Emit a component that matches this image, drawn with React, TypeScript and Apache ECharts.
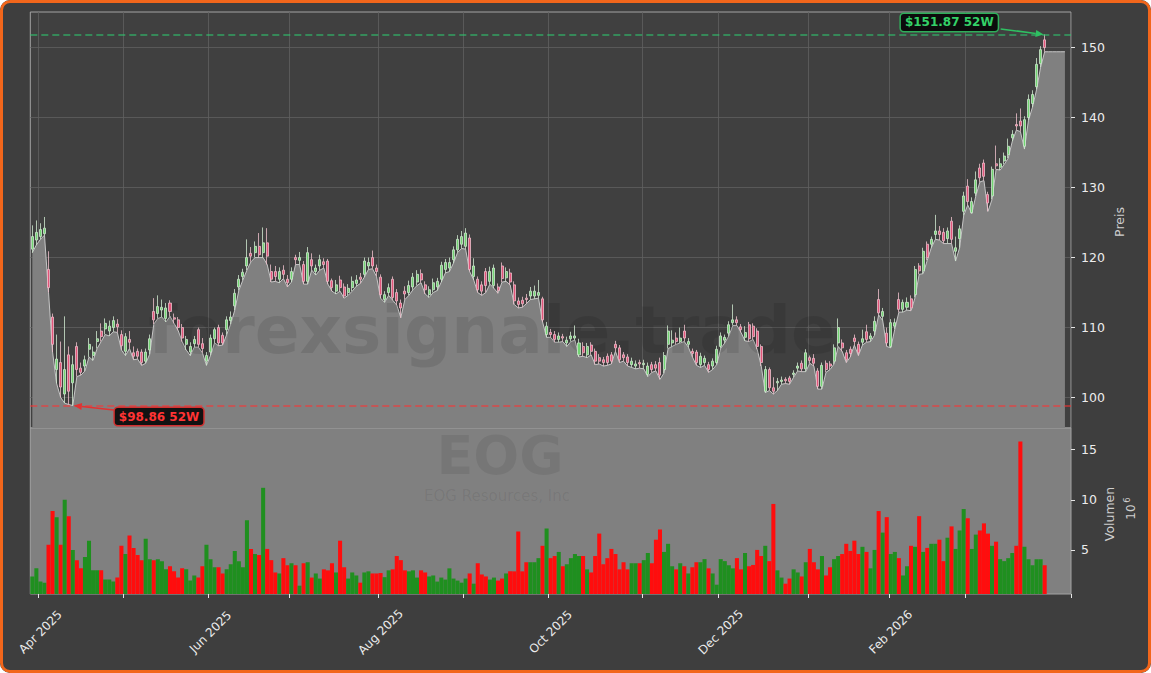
import React, { useEffect, useRef } from "react";
import * as echarts from "echarts";

// ---- data (index 0 = first trading day shown) ----
const opens = [
  121.2, 122.5, 123.0, 123.4, 118.3, 111.5, 104.0, 105.0, 100.5, 106.1,
  102.1, 107.3, 104.2, 104.5, 106.9, 106.0, 108.0, 109.5, 109.8, 109.5,
  110.0, 110.5, 109.0, 106.6, 108.3, 106.4, 106.6, 106.5, 105.2, 106.8,
  112.3, 112.0, 112.5, 111.3, 113.5, 111.4, 111.1, 110.0, 107.6, 106.5,
  107.7, 109.7, 107.7, 105.2, 106.5, 108.4, 110.0, 108.9, 109.7, 111.0,
  113.1, 115.8, 117.3, 118.8, 120.6, 120.7, 121.6, 120.7, 122.1, 118.0,
  118.0, 116.9, 118.2, 116.9, 116.9, 120.0, 119.6, 119.0, 116.6, 119.7,
  118.0, 118.8, 119.4, 119.5, 116.7, 115.2, 116.8, 115.8, 115.0, 115.7,
  116.3, 117.2, 117.6, 118.8, 120.0, 118.5, 117.2, 114.0, 115.0, 116.9,
  115.0, 113.5, 115.2, 115.0, 115.8, 116.5, 117.7, 116.1, 114.7, 115.4,
  115.8, 116.9, 118.3, 118.5, 119.7, 121.1, 121.9, 121.6, 122.8, 117.3,
  116.9, 116.1, 118.0, 116.6, 116.0, 115.8, 118.8, 117.1, 117.8, 116.1,
  113.8, 113.9, 114.2, 114.5, 114.5, 114.6, 114.1, 109.0, 109.3, 109.0,
  108.3, 108.7, 107.8, 108.4, 108.5, 106.1, 107.3, 106.1, 107.5, 106.6,
  105.7, 105.4, 105.9, 106.1, 107.6, 107.1, 106.1, 105.8, 104.7, 104.5,
  105.0, 104.7, 103.3, 104.7, 104.7, 105.0, 104.0, 107.6, 107.8, 108.5,
  108.0, 109.5, 107.6, 106.6, 106.5, 104.7, 105.0, 104.7, 104.5, 105.0,
  107.3, 108.2, 109.2, 110.7, 111.1, 110.1, 108.6, 110.4, 110.2, 109.5,
  107.3, 100.9, 104.0, 101.4, 102.1, 102.3, 102.6, 102.8, 103.3, 104.2,
  104.9, 104.1, 105.7, 105.6, 103.8, 101.6, 104.9, 104.8, 105.2, 107.8,
  107.8, 106.4, 106.9, 108.5, 107.6, 107.9, 109.4, 108.4, 109.5, 114.0,
  111.6, 109.2, 107.3, 110.2, 114.0, 112.6, 112.9, 114.1, 114.7, 118.8,
  118.1, 121.9, 121.9, 123.3, 123.8, 123.6, 122.7, 125.2, 120.9, 122.7,
  126.6, 130.2, 126.4, 129.2, 132.8, 133.5, 129.0, 128.8, 133.4, 132.9,
  133.8, 134.7, 137.1, 139.0, 139.5, 135.9, 140.0, 142.0, 144.4, 147.7,
  151.1,
];
const closes = [
  123.0, 123.6, 124.0, 124.2, 115.7, 107.6, 105.5, 101.5, 104.0, 100.9,
  104.7, 104.0, 103.6, 105.4, 107.6, 106.5, 108.4, 108.7, 110.6, 110.2,
  111.0, 110.1, 107.4, 108.7, 107.9, 105.9, 105.9, 105.0, 106.5, 108.4,
  111.1, 113.0, 112.9, 112.8, 112.3, 111.2, 110.0, 108.5, 108.3, 107.3,
  108.3, 107.6, 107.0, 106.0, 108.5, 109.7, 107.8, 107.8, 111.1, 111.5,
  114.9, 116.9, 117.9, 120.0, 120.2, 121.6, 120.4, 122.1, 120.2, 116.9,
  117.3, 118.0, 117.6, 116.4, 118.0, 119.7, 120.0, 116.6, 120.7, 118.8,
  118.5, 119.7, 119.0, 116.6, 115.7, 116.1, 115.7, 114.5, 115.6, 116.6,
  116.8, 116.9, 119.5, 119.3, 118.8, 118.0, 114.7, 114.7, 115.7, 114.3,
  113.8, 112.8, 114.8, 116.0, 117.2, 117.6, 116.8, 115.4, 115.4, 116.4,
  116.6, 118.9, 119.3, 119.3, 121.1, 122.6, 123.0, 123.5, 118.3, 118.8,
  115.4, 115.2, 116.0, 118.0, 118.5, 115.3, 117.0, 118.0, 116.5, 113.8,
  113.3, 113.4, 114.0, 115.2, 115.2, 115.0, 111.1, 110.2, 109.0, 108.3,
  108.8, 108.5, 108.2, 108.8, 108.8, 107.8, 106.4, 107.3, 106.6, 105.2,
  105.2, 105.0, 105.0, 105.2, 107.1, 105.4, 105.7, 105.0, 105.2, 104.8,
  104.8, 104.9, 104.5, 104.0, 104.2, 103.2, 106.0, 109.5, 108.2, 108.0,
  108.5, 108.5, 108.0, 106.3, 105.0, 105.9, 105.6, 104.0, 105.2, 106.9,
  108.8, 108.6, 110.4, 111.1, 110.7, 109.7, 109.3, 108.4, 108.7, 107.3,
  105.0, 104.0, 101.4, 100.9, 102.3, 102.5, 102.4, 102.3, 103.5, 104.5,
  104.1, 106.4, 105.3, 104.9, 101.6, 104.6, 104.0, 104.5, 107.1, 110.0,
  107.1, 105.4, 106.3, 108.0, 106.4, 108.4, 108.3, 108.8, 110.9, 112.1,
  112.3, 107.8, 110.7, 110.7, 112.6, 113.6, 113.6, 112.8, 118.3, 118.1,
  120.9, 120.0, 122.6, 123.8, 123.3, 122.4, 123.8, 122.6, 121.4, 124.1,
  128.8, 128.0, 128.0, 131.1, 131.4, 131.6, 127.8, 132.6, 133.1, 133.4,
  134.5, 135.9, 137.6, 138.8, 138.8, 139.7, 142.6, 143.3, 147.6, 149.7,
  150.0,
];
const lows = [
  120.7, 121.8, 122.6, 123.2, 115.0, 106.5, 102.0, 100.0, 99.2, 99.0,
  98.86, 103.0, 103.2, 103.8, 105.8, 105.3, 107.0, 108.0, 109.0, 108.8,
  109.4, 109.3, 106.8, 106.0, 107.0, 105.4, 105.5, 104.6, 104.9, 106.2,
  110.5, 111.3, 111.5, 110.8, 111.6, 110.6, 109.6, 108.0, 106.8, 106.0,
  107.2, 107.2, 106.4, 104.6, 106.0, 107.8, 107.4, 107.5, 109.0, 110.5,
  112.5, 115.3, 116.8, 118.2, 119.4, 120.0, 120.0, 120.0, 119.0, 116.5,
  116.6, 116.4, 117.0, 115.8, 116.5, 119.0, 119.0, 116.2, 116.2, 118.2,
  117.5, 118.2, 118.5, 116.2, 115.2, 114.8, 115.2, 114.2, 114.6, 115.2,
  115.9, 116.3, 117.2, 118.3, 118.4, 117.3, 114.2, 113.6, 114.6, 113.9,
  113.2, 111.4, 114.0, 114.6, 115.4, 116.0, 116.4, 114.8, 114.3, 115.0,
  115.3, 116.5, 117.8, 118.0, 119.2, 120.7, 121.3, 121.2, 118.0, 116.8,
  115.0, 114.6, 115.0, 116.2, 115.6, 114.9, 116.5, 116.6, 116.1, 113.3,
  112.8, 112.9, 113.4, 114.0, 114.1, 114.2, 110.8, 108.6, 108.6, 107.9,
  107.9, 108.0, 107.3, 108.0, 108.2, 105.8, 105.9, 105.7, 106.1, 104.7,
  104.8, 104.5, 104.6, 104.8, 106.6, 105.0, 105.2, 104.5, 104.3, 104.1,
  104.2, 104.1, 103.0, 103.6, 103.8, 102.6, 103.5, 107.0, 107.3, 107.6,
  107.8, 108.0, 107.2, 105.8, 104.6, 104.3, 104.6, 103.6, 104.0, 104.7,
  107.0, 107.8, 108.8, 110.3, 110.3, 109.3, 108.1, 108.0, 108.3, 106.9,
  104.5, 100.7, 101.0, 100.5, 101.0, 101.9, 102.0, 101.9, 102.9, 103.8,
  103.7, 103.7, 104.9, 104.5, 101.2, 101.2, 103.6, 104.0, 104.8, 107.3,
  106.6, 105.0, 105.8, 107.5, 106.0, 107.5, 107.9, 108.0, 108.9, 111.8,
  111.0, 107.3, 107.1, 109.8, 112.2, 112.2, 112.5, 112.4, 114.3, 117.6,
  117.7, 119.6, 121.4, 122.6, 122.5, 122.0, 122.0, 122.0, 119.5, 121.4,
  126.0, 127.5, 126.3, 128.8, 130.8, 131.0, 126.6, 128.3, 132.6, 132.5,
  133.3, 134.2, 136.6, 138.2, 138.0, 135.5, 139.6, 141.5, 144.0, 147.2,
  149.4,
];
const highs = [
  124.6, 125.3, 124.9, 125.8, 120.9, 112.0, 109.0, 108.0, 111.6, 107.3,
  106.0, 107.9, 105.0, 106.0, 108.5, 107.3, 109.5, 110.6, 111.3, 111.0,
  111.6, 111.2, 109.6, 109.2, 109.5, 107.3, 107.0, 106.9, 107.0, 109.0,
  114.2, 114.6, 114.0, 113.5, 113.9, 112.0, 111.5, 110.5, 108.8, 107.9,
  108.8, 110.0, 108.5, 106.5, 109.0, 110.0, 110.4, 109.3, 111.6, 112.3,
  115.5, 117.5, 118.4, 122.6, 121.5, 122.3, 123.5, 124.3, 124.2, 119.0,
  118.8, 118.6, 118.9, 117.5, 118.6, 120.4, 120.8, 119.5, 121.5, 120.6,
  119.0, 120.4, 119.9, 119.8, 117.0, 116.8, 117.4, 116.3, 116.2, 117.3,
  117.5, 117.8, 120.0, 120.0, 121.0, 119.0, 117.6, 115.2, 116.3, 117.3,
  115.5, 114.0, 115.9, 116.7, 117.8, 118.2, 118.3, 116.6, 115.9, 117.0,
  117.1, 119.4, 119.8, 120.0, 121.6, 123.2, 123.8, 124.2, 123.3, 119.9,
  117.3, 116.6, 118.5, 118.7, 119.0, 116.3, 119.3, 118.6, 118.4, 116.6,
  114.3, 114.4, 114.8, 115.8, 116.0, 116.8, 114.4, 110.8, 109.8, 109.5,
  109.3, 109.1, 108.7, 109.4, 110.3, 108.4, 107.9, 107.8, 107.9, 107.0,
  106.2, 105.8, 106.3, 106.5, 108.1, 107.5, 106.5, 106.2, 105.7, 105.3,
  105.4, 105.4, 105.0, 105.1, 105.2, 105.7, 106.5, 110.3, 109.6, 109.3,
  110.0, 110.4, 108.5, 107.0, 106.8, 106.4, 106.0, 105.1, 105.6, 107.4,
  109.3, 109.0, 110.9, 113.3, 111.6, 110.5, 110.2, 110.8, 110.6, 109.9,
  107.6, 104.5, 104.3, 102.9, 102.8, 103.0, 102.9, 103.1, 103.9, 105.0,
  105.3, 106.9, 106.0, 106.2, 104.2, 105.0, 105.3, 105.2, 107.6, 111.3,
  108.3, 106.8, 107.3, 109.0, 108.0, 109.7, 110.4, 109.2, 111.6, 115.5,
  112.8, 110.0, 111.2, 111.3, 115.0, 114.0, 114.3, 114.6, 118.8, 119.2,
  121.4, 122.3, 123.0, 126.1, 124.5, 124.2, 124.3, 125.8, 123.0, 124.6,
  129.4, 131.2, 128.6, 132.3, 133.4, 134.0, 129.4, 133.0, 136.0, 134.2,
  135.0, 137.0, 138.2, 140.6, 141.3, 140.2, 143.3, 143.9, 148.5, 150.2,
  151.87,
];
// volume in millions of shares
const volumes = [
  2.35, 3.16, 1.84, 1.73, 5.51, 8.88, 8.27, 5.51, 10.0, 8.37,
  5.0, 3.98, 3.16, 4.29, 5.92, 2.96, 2.96, 2.96, 2.04, 2.04,
  1.84, 2.24, 5.41, 4.59, 6.43, 5.2, 4.49, 3.98, 6.12, 4.08,
  3.98, 4.08, 3.88, 3.06, 3.37, 2.86, 2.24, 3.16, 3.06, 1.94,
  2.45, 2.24, 3.37, 5.51, 4.08, 3.27, 3.27, 2.65, 3.06, 3.57,
  4.9, 3.88, 3.27, 7.96, 5.1, 4.59, 4.49, 11.2, 5.1, 3.98,
  2.75, 2.65, 4.18, 3.47, 3.67, 3.47, 1.43, 3.67, 3.77, 2.24,
  2.65, 2.14, 3.06, 2.96, 3.67, 2.75, 5.92, 3.27, 2.14, 2.75,
  2.45, 1.73, 2.75, 2.86, 2.65, 2.65, 2.69, 2.28, 2.96, 3.06,
  4.39, 3.98, 2.96, 2.86, 2.96, 2.24, 2.96, 2.75, 2.35, 2.45,
  1.84, 2.24, 2.04, 3.16, 2.14, 1.94, 1.73, 2.14, 2.65, 1.63,
  3.67, 2.55, 2.35, 2.04, 2.24, 1.94, 2.14, 2.65, 2.86, 2.86,
  6.84, 2.86, 3.77, 3.77, 3.77, 4.18, 5.41, 7.14, 4.18, 4.39,
  4.8, 3.37, 3.57, 4.18, 4.59, 4.39, 4.39, 3.06, 2.75, 4.39,
  6.63, 3.57, 4.18, 5.1, 4.59, 3.06, 3.77, 3.06, 3.67, 3.67,
  3.67, 3.98, 4.69, 3.67, 6.02, 7.04, 4.8, 5.61, 3.37, 3.06,
  3.67, 3.37, 2.65, 3.27, 3.77, 3.77, 4.08, 3.16, 2.65, 1.53,
  4.08, 3.88, 3.47, 3.16, 4.18, 3.06, 4.69, 3.37, 3.5, 5.0,
  4.39, 5.41, 3.88, 9.59, 2.96, 2.24, 1.63, 2.14, 3.06, 2.75,
  2.35, 3.77, 5.1, 3.77, 3.06, 4.39, 2.45, 3.27, 4.08, 4.39,
  4.59, 5.61, 4.9, 5.92, 4.59, 5.31, 4.8, 3.16, 5.0, 8.88,
  6.73, 8.27, 4.59, 4.8, 4.18, 2.45, 3.37, 5.41, 5.31, 8.37,
  4.8, 5.2, 5.61, 5.61, 6.02, 3.88, 6.22, 7.35, 5.1, 6.94,
  9.08, 8.16, 5.1, 6.53, 6.94, 7.65, 6.63, 5.41, 5.82, 4.08,
  3.88, 4.18, 4.69, 5.41, 15.82, 5.31, 4.08, 3.47, 4.08, 4.08,
  3.47,
];

const slotCount = 257; // trading-day slots on the x axis
const areaTailSlots = 5; // slots after the last bar where the filled area is held flat
const monthTickIdx = [2, 23, 44, 64, 86, 107, 128, 151, 170, 192, 212, 231];
const monthLabelIdx = [2, 44, 86, 128, 170, 212];
const monthLabels = ["Apr 2025", "Jun 2025", "Aug 2025", "Oct 2025", "Dec 2025", "Feb 2026"];
const priceTicks = [100, 110, 120, 130, 140, 150];
const volumeTicks = [5, 10, 15];
const priceMin = 95.65;
const priceMax = 155.08;
const volMin = 0.6;
const volMax = 17.17;

const FONT = "DejaVu Sans";

function arrow(x1: number, y1: number, x2: number, y2: number, color: string) {
  const dx = x2 - x1;
  const dy = y2 - y1;
  const len = Math.sqrt(dx * dx + dy * dy) || 1;
  const ux = dx / len;
  const uy = dy / len;
  const hl = 8;
  const hw = 3.5;
  const bx = x2 - ux * hl;
  const by = y2 - uy * hl;
  return [
    {
      type: "line",
      z: 20,
      silent: true,
      shape: { x1, y1, x2: bx, y2: by },
      style: { stroke: color, lineWidth: 1.6 },
    },
    {
      type: "polygon",
      z: 20,
      silent: true,
      shape: {
        points: [
          [x2, y2],
          [bx - uy * hw, by + ux * hw],
          [bx + uy * hw, by - ux * hw],
        ],
      },
      style: { fill: color },
    },
  ];
}

export default function App() {
  const ref = useRef<HTMLDivElement>(null);

  useEffect(() => {
    document.body.style.margin = "0";
    if (!ref.current) return;
    const chart = echarts.init(ref.current, undefined, { renderer: "svg" });

    const cats = Array.from({ length: slotCount }, (_, i) => String(i));
    const tickSet = new Set(monthTickIdx);
    const labelMap = new Map<number, string>(monthLabelIdx.map((idx, k) => [idx, monthLabels[k]]));

    const hi = Math.max(...highs);
    const lo = Math.min(...lows);
    const hiIdx = highs.indexOf(hi);
    const loIdx = lows.indexOf(lo);

    const areaData = [
      ...lows,
      ...Array.from({ length: areaTailSlots }, () => lows[lows.length - 1]),
    ];

    const gridLeft = 30.3;
    const gridWidth = 1040.7;

    chart.setOption({
      animation: false,
      backgroundColor: "transparent",
      textStyle: { fontFamily: FONT },
      grid: [
        {
          left: gridLeft,
          top: 12,
          width: gridWidth,
          height: 416,
          show: true,
          backgroundColor: "#404040",
          borderColor: "#a3a3a3",
          borderWidth: 1,
        },
        {
          left: gridLeft,
          top: 428,
          width: gridWidth,
          height: 166,
          show: true,
          backgroundColor: "#808080",
          borderColor: "#a3a3a3",
          borderWidth: 1,
        },
      ],
      xAxis: [
        {
          type: "category",
          gridIndex: 0,
          data: cats,
          boundaryGap: true,
          axisLine: { show: false },
          axisTick: { show: false },
          axisLabel: { show: false },
          splitLine: {
            show: true,
            interval: (i: number) => tickSet.has(i),
            lineStyle: { color: "#5f5f5f", width: 0.8 },
          },
        },
        {
          type: "category",
          gridIndex: 1,
          data: cats,
          boundaryGap: true,
          axisLine: { show: false },
          axisTick: {
            show: true,
            interval: (i: number) => tickSet.has(i),
            length: 4,
            lineStyle: { color: "#e6e6e6", width: 1 },
          },
          axisLabel: {
            show: true,
            interval: (i: number) => labelMap.has(i),
            formatter: (_v: string, i: number) => labelMap.get(i) || "",
            rotate: 45,
            align: "center",
            verticalAlign: "middle",
            margin: 38,
            color: "#ececec",
            fontSize: 12,
            fontFamily: FONT,
          },
          splitLine: { show: false },
        },
      ],
      yAxis: [
        {
          type: "value",
          gridIndex: 0,
          position: "right",
          min: priceMin,
          max: priceMax,
          axisLine: { show: false },
          axisTick: {
            show: true,
            customValues: priceTicks,
            length: 4,
            lineStyle: { color: "#e6e6e6" },
          },
          axisLabel: {
            show: true,
            customValues: priceTicks,
            color: "#ececec",
            fontSize: 12.5,
            margin: 10,
            fontFamily: FONT,
          },
          splitLine: { show: true, lineStyle: { color: "#5f5f5f", width: 0.8 } },
        },
        {
          type: "value",
          gridIndex: 1,
          position: "right",
          min: volMin,
          max: volMax,
          axisLine: { show: false },
          axisTick: {
            show: true,
            customValues: volumeTicks,
            length: 4,
            lineStyle: { color: "#e6e6e6" },
          },
          axisLabel: {
            show: true,
            customValues: volumeTicks,
            color: "#ececec",
            fontSize: 12.5,
            margin: 10,
            fontFamily: FONT,
          },
          splitLine: { show: false },
        },
      ],
      series: [
        {
          type: "line",
          name: "area",
          xAxisIndex: 0,
          yAxisIndex: 0,
          data: areaData,
          symbol: "none",
          silent: true,
          z: 2,
          lineStyle: { color: "#c6c6c6", width: 1 },
          areaStyle: { color: "#808080", opacity: 1, origin: "start" },
        },
        {
          type: "candlestick",
          name: "EOG",
          xAxisIndex: 0,
          yAxisIndex: 0,
          z: 4,
          barWidth: "62%",
          data: opens.map((o, i) => [o, closes[i], lows[i], highs[i]]),
          itemStyle: {
            color: "#72d472",
            color0: "#e2557a",
            borderColor: "#cfe9cf",
            borderColor0: "#eec0cc",
            borderWidth: 0.8,
          },
          markLine: {
            silent: true,
            symbol: ["none", "none"],
            label: { show: false },
            data: [
              { yAxis: hi, lineStyle: { color: "#2ecc71", opacity: 0.7, width: 1.6, type: [7, 4] } },
              { yAxis: lo, lineStyle: { color: "#ff3030", opacity: 0.7, width: 1.6, type: [7, 4] } },
            ],
          },
        },
        {
          type: "bar",
          name: "Volumen",
          xAxisIndex: 1,
          yAxisIndex: 1,
          z: 3,
          barWidth: "100%",
          data: volumes.map((v, i) => ({
            value: v,
            itemStyle: { color: closes[i] >= opens[i] ? "#1f8f1f" : "#ff0d0d" },
          })),
        },
      ],
    });

    const [hx, hy] = chart.convertToPixel({ xAxisIndex: 0, yAxisIndex: 0 }, [hiIdx, hi]) as number[];
    const [lx, ly] = chart.convertToPixel({ xAxisIndex: 0, yAxisIndex: 0 }, [loIdx, lo]) as number[];

    const hiText = "$" + hi.toFixed(2) + " 52W";
    const loText = "$" + lo.toFixed(2) + " 52W";

    chart.setOption({
      graphic: [
        {
          type: "text",
          z: 3,
          silent: true,
          x: 492,
          y: 330,
          style: {
            text: "forexsignale.trade",
            fill: "rgba(0,0,0,0.10)",
            font: `bold 66px "${FONT}"`,
            align: "center",
            verticalAlign: "middle",
          },
        },
        {
          type: "text",
          z: 3,
          silent: true,
          x: 500,
          y: 455,
          style: {
            text: "EOG",
            fill: "rgba(0,0,0,0.08)",
            font: `bold 54px "${FONT}"`,
            align: "center",
            verticalAlign: "middle",
          },
        },
        {
          type: "text",
          z: 3,
          silent: true,
          x: 497,
          y: 496,
          style: {
            text: "EOG Resources, Inc",
            fill: "rgba(0,0,0,0.08)",
            font: `15px "${FONT}"`,
            align: "center",
            verticalAlign: "middle",
          },
        },
        {
          type: "text",
          silent: true,
          x: 1119,
          y: 222,
          rotation: Math.PI / 2,
          style: {
            text: "Preis",
            fill: "#cfcfcf",
            font: `12.5px "${FONT}"`,
            align: "center",
            verticalAlign: "middle",
          },
        },
        {
          type: "text",
          silent: true,
          x: 1109,
          y: 514,
          rotation: Math.PI / 2,
          style: {
            text: "Volumen",
            fill: "#cfcfcf",
            font: `12.5px "${FONT}"`,
            align: "center",
            verticalAlign: "middle",
          },
        },
        {
          type: "text",
          silent: true,
          x: 1131,
          y: 512,
          rotation: Math.PI / 2,
          style: {
            text: "10",
            fill: "#cfcfcf",
            font: `12px "${FONT}"`,
            align: "center",
            verticalAlign: "middle",
          },
        },
        {
          type: "text",
          silent: true,
          x: 1126.5,
          y: 500,
          rotation: Math.PI / 2,
          style: {
            text: "6",
            fill: "#cfcfcf",
            font: `8.5px "${FONT}"`,
            align: "center",
            verticalAlign: "middle",
          },
        },
        {
          type: "text",
          z: 21,
          silent: true,
          x: hx - 47,
          y: hy - 12,
          style: {
            text: hiText,
            fill: "#34d168",
            font: `bold 12px "${FONT}"`,
            align: "right",
            verticalAlign: "middle",
            backgroundColor: "#0c0c0c",
            borderColor: "#2fae5a",
            borderWidth: 1.5,
            borderRadius: 3,
            padding: [3, 4, 2, 4],
          },
        },
        ...arrow(hx - 44, hy - 5.5, hx - 1, hy, "#2fc062"),
        {
          type: "text",
          z: 21,
          silent: true,
          x: lx + 42,
          y: ly + 11,
          style: {
            text: loText,
            fill: "#ff3434",
            font: `bold 12px "${FONT}"`,
            align: "left",
            verticalAlign: "middle",
            backgroundColor: "#121212",
            borderColor: "#d23030",
            borderWidth: 1.5,
            borderRadius: 3,
            padding: [3, 4, 2, 4],
          },
        },
        ...arrow(lx + 41, ly + 4.5, lx + 1, ly, "#e23232"),
      ],
    });

    return () => chart.dispose();
  }, []);

  return (
    <div
      style={{
        position: "relative",
        width: 1151,
        height: 673,
        background: "#3e3e3e",
        borderRadius: 10,
        overflow: "hidden",
      }}
    >
      <div ref={ref} style={{ position: "absolute", left: 0, top: 0, width: 1151, height: 673 }} />
      <div
        style={{
          position: "absolute",
          inset: 0,
          border: "3px solid #f2661b",
          borderRadius: 10,
          boxSizing: "border-box",
          pointerEvents: "none",
        }}
      />
    </div>
  );
}
